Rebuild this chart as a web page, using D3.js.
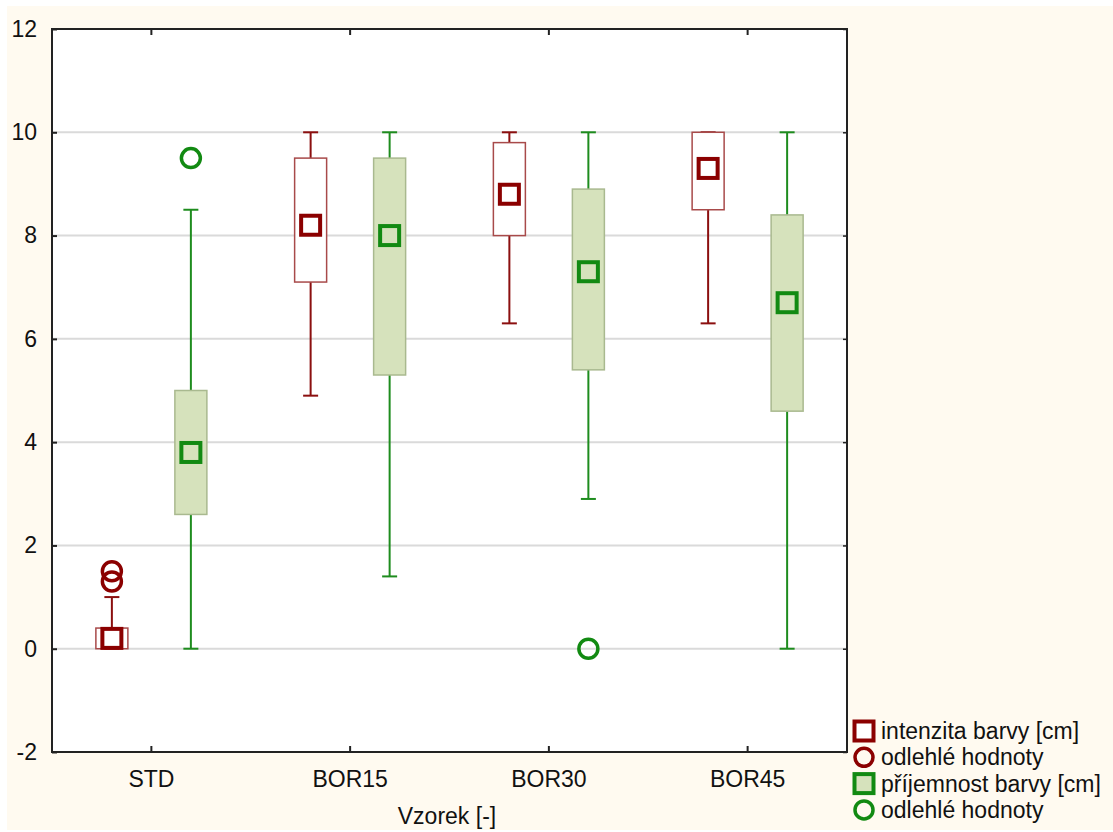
<!DOCTYPE html>
<html>
<head>
<meta charset="utf-8">
<script src="https://cdn.jsdelivr.net/npm/d3@7"></script>
<style>
  html, body { margin: 0; padding: 0; background: #ffffff; }
  svg { display: block; font-family: "Liberation Sans", Arial, sans-serif; }
</style>
</head>
<body>
<svg id="chart" width="1113" height="832"></svg>
<script>
// Samples on the x axis
const categories = ["STD", "BOR15", "BOR30", "BOR45"];

// intenzita barvy [cm]
const intLow    = [0.0, 4.9, 6.3, 6.3];
const intQ1     = [0.0, 7.1, 8.0, 8.5];
const intQ3     = [0.4, 9.5, 9.8, 10.0];
const intHigh   = [1.0, 10.0, 10.0, 10.0];
const intMid    = [0.2, 8.2, 8.8, 9.3];
const intOut    = [[1.3, 1.5], [], [], []];

// příjemnost barvy [cm]
const priLow    = [0.0, 1.4, 2.9, 0.0];
const priQ1     = [2.6, 5.3, 5.4, 4.6];
const priQ3     = [5.0, 9.5, 8.9, 8.4];
const priHigh   = [8.5, 10.0, 10.0, 10.0];
const priMid    = [3.8, 8.0, 7.3, 6.7];
const priOut    = [[9.5], [], [0.0], []];

const yTicks = [-2, 0, 2, 4, 6, 8, 10, 12];

const legendItems = [
  { label: "intenzita barvy [cm]", shape: "square", stroke: "#8b0000", fill: "#ffffff" },
  { label: "odlehlé hodnoty", shape: "circle", stroke: "#8b0000", fill: "none" },
  { label: "příjemnost barvy [cm]", shape: "square", stroke: "#128a12", fill: "#d6e2bc" },
  { label: "odlehlé hodnoty", shape: "circle", stroke: "#128a12", fill: "none" }
];

const svg = d3.select("#chart");
const W = 1113, H = 832;
const plot = { left: 52, top: 29, right: 847, bottom: 752 };
const FONT = 23;

// Cream page background
svg.append("rect").attr("x", 7).attr("y", 6).attr("width", W - 7).attr("height", H - 8)
  .attr("fill", "#fffaf0");

// Plot area
svg.append("rect").attr("x", plot.left).attr("y", plot.top)
  .attr("width", plot.right - plot.left).attr("height", plot.bottom - plot.top)
  .attr("fill", "#ffffff");

const x = d3.scaleBand().domain(categories).range([plot.left, plot.right]);
const y = d3.scaleLinear().domain([-2, 12]).range([plot.bottom, plot.top]);

// Horizontal grid lines
svg.append("g").selectAll("line").data(yTicks.filter(t => t > -2 && t < 12)).join("line")
  .attr("x1", plot.left).attr("x2", plot.right)
  .attr("y1", d => y(d)).attr("y2", d => y(d))
  .attr("stroke", "#dadada").attr("stroke-width", 2);

// Axes
const yAxisL = d3.axisLeft(y).tickValues(yTicks).tickSize(-5).tickPadding(15).tickFormat(d => String(d));
const gy = svg.append("g").attr("transform", `translate(${plot.left},0)`).call(yAxisL);
gy.select(".domain").remove();
gy.selectAll("line").attr("stroke", "#222").attr("stroke-width", 2);
gy.selectAll("text").attr("font-size", FONT).attr("fill", "#111")
  .attr("font-family", "Liberation Sans, Arial, sans-serif");

const yAxisR = d3.axisLeft(y).tickValues(yTicks).tickSize(4).tickFormat("");
const gyr = svg.append("g").attr("transform", `translate(${plot.right},0)`).call(yAxisR);
gyr.select(".domain").remove();
gyr.selectAll("line").attr("stroke", "#222").attr("stroke-width", 1.5);

const xAxisB = d3.axisBottom(x).tickSize(-6).tickPadding(19);
const gx = svg.append("g").attr("transform", `translate(0,${plot.bottom})`).call(xAxisB);
gx.select(".domain").remove();
gx.selectAll("line").attr("stroke", "#222").attr("stroke-width", 2);
gx.selectAll("text").attr("font-size", FONT).attr("fill", "#111")
  .attr("font-family", "Liberation Sans, Arial, sans-serif");

const xAxisT = d3.axisTop(x).tickSize(-6).tickFormat("");
const gxt = svg.append("g").attr("transform", `translate(0,${plot.top})`).call(xAxisT);
gxt.select(".domain").remove();
gxt.selectAll("line").attr("stroke", "#222").attr("stroke-width", 2);

// Plot frame
svg.append("rect").attr("x", plot.left).attr("y", plot.top)
  .attr("width", plot.right - plot.left).attr("height", plot.bottom - plot.top)
  .attr("fill", "none").attr("stroke", "#222").attr("stroke-width", 2);

// X axis title
svg.append("text").attr("x", 447).attr("y", 824)
  .attr("text-anchor", "middle").attr("font-size", FONT).attr("fill", "#111")
  .text("Vzorek [-]");

// Box plots
const boxW = 32, capW = 15, markerS = 19;
function series(offset, low, q1, q3, high, mid, out, style) {
  const g = svg.append("g");
  const rows = categories.map((c, i) => ({
    cx: x(c) + x.bandwidth() / 2 + offset,
    low: low[i], q1: q1[i], q3: q3[i], high: high[i], mid: mid[i], out: out[i]
  }));
  // whiskers
  g.selectAll(".wl").data(rows).join("line")
    .attr("x1", d => d.cx).attr("x2", d => d.cx)
    .attr("y1", d => y(d.low)).attr("y2", d => y(d.q1))
    .attr("stroke", style.line).attr("stroke-width", 2);
  g.selectAll(".wh").data(rows).join("line")
    .attr("x1", d => d.cx).attr("x2", d => d.cx)
    .attr("y1", d => y(d.high)).attr("y2", d => y(d.q3))
    .attr("stroke", style.line).attr("stroke-width", 2);
  g.selectAll(".cl").data(rows).join("line")
    .attr("x1", d => d.cx - capW / 2).attr("x2", d => d.cx + capW / 2)
    .attr("y1", d => y(d.low)).attr("y2", d => y(d.low))
    .attr("stroke", style.line).attr("stroke-width", 2);
  g.selectAll(".ch").data(rows).join("line")
    .attr("x1", d => d.cx - capW / 2).attr("x2", d => d.cx + capW / 2)
    .attr("y1", d => y(d.high)).attr("y2", d => y(d.high))
    .attr("stroke", style.line).attr("stroke-width", 2);
  // boxes
  g.selectAll(".bx").data(rows).join("rect")
    .attr("x", d => d.cx - boxW / 2).attr("width", boxW)
    .attr("y", d => y(d.q3)).attr("height", d => y(d.q1) - y(d.q3))
    .attr("fill", style.boxFill).attr("stroke", style.boxStroke).attr("stroke-width", 1.5);
  // centre markers
  g.selectAll(".mk").data(rows).join("rect")
    .attr("x", d => d.cx - markerS / 2).attr("y", d => y(d.mid) - markerS / 2)
    .attr("width", markerS).attr("height", markerS)
    .attr("fill", "none").attr("stroke", style.marker).attr("stroke-width", 4);
  // outliers
  const outs = rows.flatMap(d => d.out.map(v => ({ cx: d.cx, v })));
  g.selectAll(".ot").data(outs).join("circle")
    .attr("cx", d => d.cx).attr("cy", d => y(d.v)).attr("r", 9.5)
    .attr("fill", "none").attr("stroke", style.marker).attr("stroke-width", 3.5);
}

series(-39.5, intLow, intQ1, intQ3, intHigh, intMid, intOut,
  { line: "#8b0f0f", boxFill: "#ffffff", boxStroke: "#a84a4a", marker: "#8b0000" });
series(39.5, priLow, priQ1, priQ3, priHigh, priMid, priOut,
  { line: "#1e8c1e", boxFill: "#d6e2bc", boxStroke: "#a9b98f", marker: "#128a12" });

// Legend
const lg = svg.append("g").attr("transform", "translate(864,731)");
const rowH = 26.3;
legendItems.forEach((it, i) => {
  const gy0 = i * rowH;
  if (it.shape === "square") {
    lg.append("rect").attr("x", -9.5).attr("y", gy0 - 9.5).attr("width", 19).attr("height", 19)
      .attr("fill", it.fill).attr("stroke", it.stroke).attr("stroke-width", 4);
  } else {
    lg.append("circle").attr("cx", 0).attr("cy", gy0).attr("r", 9)
      .attr("fill", "none").attr("stroke", it.stroke).attr("stroke-width", 3.5);
  }
  lg.append("text").attr("x", 17).attr("y", gy0 + 8).attr("font-size", FONT).attr("fill", "#111")
    .text(it.label);
});
</script>
</body>
</html>
